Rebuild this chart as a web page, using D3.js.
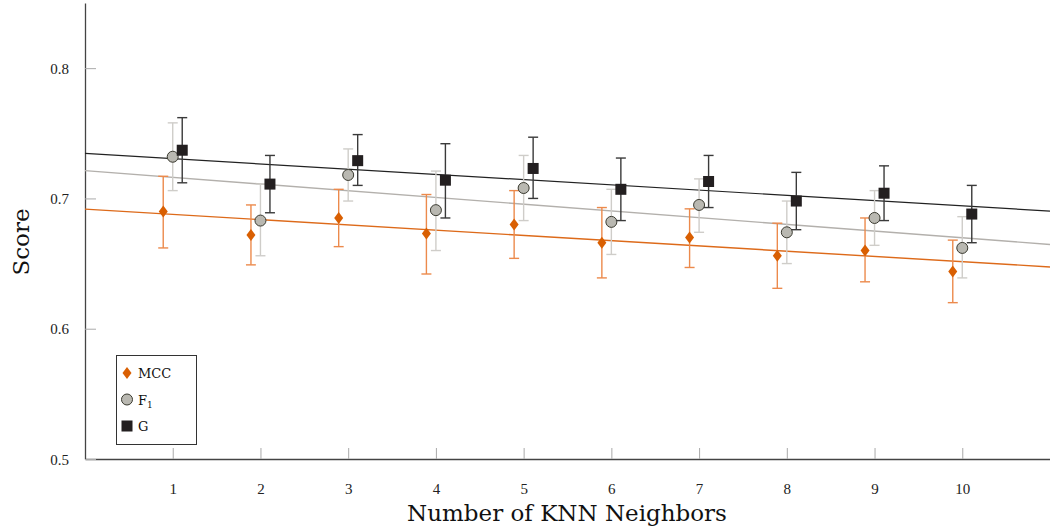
<!DOCTYPE html>
<html>
<head>
<meta charset="utf-8">
<script src="https://cdn.jsdelivr.net/npm/d3@7"></script>
<style>
  body { margin: 0; background: #fff; }
  text { font-family: "Liberation Serif", "DejaVu Serif", serif; }
</style>
</head>
<body>
<div id="chart"></div>
<script>
var svgWidth = 1050;
var svgHeight = 531;

// Data
var neighbors = [1, 2, 3, 4, 5, 6, 7, 8, 9, 10];

var mccMean = [0.690, 0.672, 0.685, 0.673, 0.680, 0.666, 0.670, 0.656, 0.660, 0.644];
var mccLow  = [0.662, 0.649, 0.663, 0.642, 0.654, 0.639, 0.647, 0.631, 0.636, 0.620];
var mccHigh = [0.717, 0.695, 0.707, 0.703, 0.706, 0.693, 0.692, 0.681, 0.685, 0.668];

var f1Mean = [0.732, 0.683, 0.718, 0.691, 0.708, 0.682, 0.695, 0.674, 0.685, 0.662];
var f1Low  = [0.706, 0.656, 0.698, 0.660, 0.683, 0.657, 0.674, 0.650, 0.664, 0.639];
var f1High = [0.758, 0.711, 0.738, 0.721, 0.733, 0.707, 0.715, 0.698, 0.706, 0.686];

var gMean = [0.737, 0.711, 0.729, 0.714, 0.723, 0.707, 0.713, 0.698, 0.704, 0.688];
var gLow  = [0.712, 0.689, 0.710, 0.685, 0.700, 0.683, 0.693, 0.676, 0.683, 0.666];
var gHigh = [0.762, 0.733, 0.749, 0.742, 0.747, 0.731, 0.733, 0.720, 0.725, 0.710];

var yTicks = [0.5, 0.6, 0.7, 0.8];

var series = [
  { name: "MCC", mean: mccMean, low: mccLow, high: mccHigh, shape: "diamond",
    color: "#d95f02", errColor: "#ec8a4c", lineColor: "#dd6a1a", shift: -9.5 },
  { name: "F1", mean: f1Mean, low: f1Low, high: f1High, shape: "circle",
    color: "#b9b8b1", errColor: "#cfcdc9", lineColor: "#b3b0ac", shift: 0 },
  { name: "G", mean: gMean, low: gLow, high: gHigh, shape: "square",
    color: "#231f20", errColor: "#3a3a3a", lineColor: "#222222", shift: 9.5 }
];

var x = d3.scaleLinear().domain([0, 11]).range([85, 1050]);
var y = d3.scaleLinear().domain([0.5, 0.85]).range([459, 3]);

var svg = d3.select("#chart")
  .append("svg")
  .attr("width", svgWidth)
  .attr("height", svgHeight);

// Axes (ticks pointing inward)
var xAxis = svg.append("g")
  .attr("transform", "translate(0, 459)")
  .call(d3.axisBottom(x).tickValues(neighbors).tickSize(-11).tickPadding(24).tickSizeOuter(0));
var yAxis = svg.append("g")
  .attr("transform", "translate(85, 0)")
  .call(d3.axisLeft(y).tickValues(yTicks).tickFormat(d3.format(".1f")).tickSize(-11).tickPadding(16).tickSizeOuter(0));

[xAxis, yAxis].forEach(function(ax) {
  ax.select(".domain").attr("stroke", "#444").attr("stroke-width", 1.3);
  ax.selectAll(".tick line").attr("stroke", "#aaa").attr("stroke-width", 1);
  ax.selectAll(".tick text")
    .style("font-family", "'Liberation Serif', serif")
    .style("font-size", "15px")
    .attr("fill", "#222");
});
yAxis.selectAll(".tick text").attr("dy", "0.35em");

// Least-squares trend lines computed from the means
function fit(vals) {
  var mx = d3.mean(neighbors), my = d3.mean(vals);
  var num = d3.sum(neighbors, (d, i) => (d - mx) * (vals[i] - my));
  var den = d3.sum(neighbors, d => (d - mx) * (d - mx));
  var b = num / den;
  return { a: my - b * mx, b: b };
}

var plot = svg.append("g");

series.forEach(function(s) {
  var f = fit(s.mean);
  var dom = x.domain();
  plot.append("line")
    .attr("x1", x(dom[0])).attr("y1", y(f.a + f.b * dom[0]))
    .attr("x2", x(dom[1])).attr("y2", y(f.a + f.b * dom[1]))
    .attr("stroke", s.lineColor)
    .attr("stroke-width", s.name === "G" ? 1.2 : 1.4);
});

function drawMarker(g, shape, color, cx, cy) {
  if (shape === "diamond") {
    g.append("path")
      .attr("d", `M${cx},${cy - 6}L${cx + 4.5},${cy}L${cx},${cy + 6}L${cx - 4.5},${cy}Z`)
      .attr("fill", color);
  } else if (shape === "circle") {
    g.append("circle")
      .attr("cx", cx).attr("cy", cy).attr("r", 5.5)
      .attr("fill", color).attr("stroke", "#3a3a30").attr("stroke-width", 1);
  } else {
    g.append("rect")
      .attr("x", cx - 5.5).attr("y", cy - 5.5)
      .attr("width", 11).attr("height", 11)
      .attr("fill", color);
  }
}

series.forEach(function(s) {
  var g = plot.append("g");
  neighbors.forEach(function(n, i) {
    var cx = x(n) + s.shift;
    // error bar
    g.append("line")
      .attr("x1", cx).attr("x2", cx)
      .attr("y1", y(s.low[i])).attr("y2", y(s.high[i]))
      .attr("stroke", s.errColor).attr("stroke-width", 1.4);
    [s.low[i], s.high[i]].forEach(function(v) {
      g.append("line")
        .attr("x1", cx - 5).attr("x2", cx + 5)
        .attr("y1", y(v)).attr("y2", y(v))
        .attr("stroke", s.errColor).attr("stroke-width", 1.4);
    });
  });
  neighbors.forEach(function(n, i) {
    drawMarker(g, s.shape, s.color, x(n) + s.shift, y(s.mean[i]));
  });
});

// Legend
var legend = svg.append("g");
legend.append("rect")
  .attr("x", 116.5).attr("y", 355.5)
  .attr("width", 80).attr("height", 89)
  .attr("fill", "#fff").attr("stroke", "#333").attr("stroke-width", 1);

series.forEach(function(s, i) {
  var ly = 373 + i * 26.5;
  drawMarker(legend, s.shape, s.color, 127, ly);
  var t = legend.append("text")
    .attr("x", 138).attr("y", ly + 5)
    .style("font-family", "'DejaVu Serif', serif")
    .style("font-size", "13px")
    .attr("fill", "#111");
  if (s.name === "F1") {
    t.append("tspan").text("F");
    t.append("tspan").attr("font-size", "9px").attr("dy", 3).text("1");
  } else {
    t.text(s.name);
  }
});

// Axis titles
svg.append("text")
  .attr("x", 567).attr("y", 521)
  .attr("text-anchor", "middle")
  .style("font-family", "'DejaVu Serif', serif")
  .style("font-size", "23px")
  .attr("fill", "#111")
  .text("Number of KNN Neighbors");

svg.append("text")
  .attr("transform", "translate(29, 242) rotate(-90)")
  .attr("text-anchor", "middle")
  .style("font-family", "'DejaVu Serif', serif")
  .style("font-size", "23px")
  .attr("fill", "#111")
  .text("Score");
</script>
</body>
</html>
